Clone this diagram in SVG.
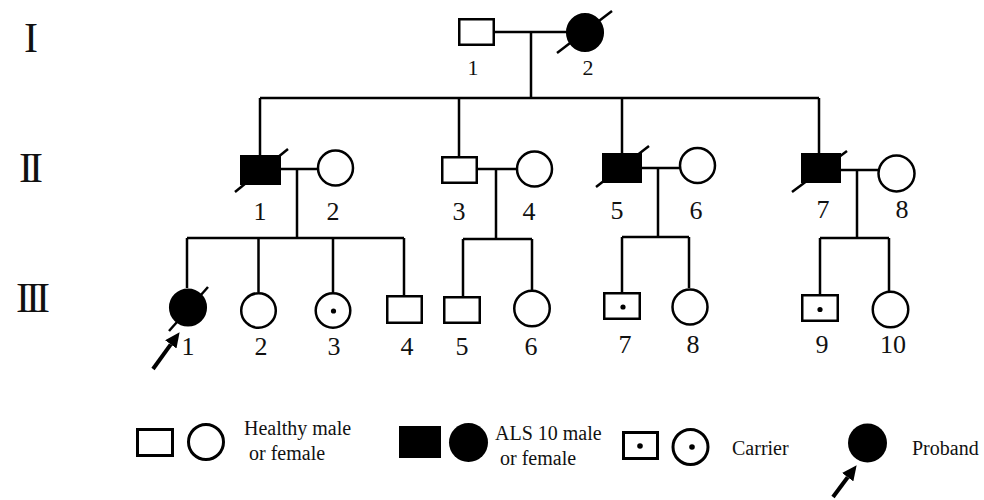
<svg xmlns="http://www.w3.org/2000/svg" width="984" height="500" viewBox="0 0 984 500">
  <defs>
    <style>
      .ln { stroke: #000; stroke-width: 2.5; fill: none; }
      .open { fill: #fff; stroke: #000; stroke-width: 2.5; }
      .aff { fill: #000; stroke: #000; stroke-width: 2.5; }
      .leg { fill: #fff; stroke: #000; stroke-width: 3; }
      .slash { stroke: #000; stroke-width: 2.5; }
      .dot { fill: #000; }
      .arrow { stroke: #000; stroke-width: 4; fill: none; }
      text { font-family: "Liberation Serif", "Times New Roman", serif; fill: #111; }
      .num { font-size: 26px; text-anchor: middle; }
      .num1 { font-size: 22px; text-anchor: middle; }
      .gen { font-size: 42px; text-anchor: middle; letter-spacing: -4px; }
      .lgt { font-size: 20px; }
    </style>
    <marker id="head" markerUnits="userSpaceOnUse" markerWidth="15" markerHeight="14" refX="0" refY="7" orient="auto">
      <path d="M0,0 L15,7 L0,14 z" fill="#000"/>
    </marker>
  </defs>

  <!-- generation numerals -->
  <g id="generations">
    <text class="gen" x="29" y="52">I</text>
    <text class="gen" x="29" y="182">II</text>
    <text class="gen" x="31" y="312">III</text>
  </g>

  <!-- connectors -->
  <g id="connectors">
    <!-- generation I -->
    <path class="ln" d="M495,32 H566 M531,32 V98 M260,98 H819 M260,98 V155 M459,98 V156 M622,98 V153 M819,98 V153"/>
    <!-- generation II couples -->
    <path class="ln" d="M281,169 H317 M297,169 V238 M187,238 H404 M187,238 V288 M258.5,238 V292 M333,238 V292 M404,238 V296"/>
    <path class="ln" d="M478,169 H516 M496,169 V239 M463,239 H532 M463,239 V297 M532,239 V290"/>
    <path class="ln" d="M642,168 H679 M658,168 V237 M622,237 H689 M622,237 V293 M689,237 V288"/>
    <path class="ln" d="M841,170 H878 M857,170 V238 M820,238 H889 M820,238 V295 M889,238 V291"/>
  </g>

  <!-- generation I -->
  <g id="I-1"><rect class="open" x="459.25" y="19.25" width="34.5" height="25.5"/><text class="num1" x="473" y="75">1</text></g>
  <g id="I-2"><ellipse class="aff" cx="585" cy="32.5" rx="17.8" ry="18.3"/><line class="slash" x1="557" y1="53" x2="612" y2="11"/><text class="num1" x="588" y="75">2</text></g>

  <!-- generation II -->
  <g id="II-1"><rect class="aff" x="241.25" y="156.25" width="38.5" height="27.5"/><line class="slash" x1="235" y1="192" x2="288" y2="149"/><text class="num" x="260" y="220">1</text></g>
  <g id="II-2"><circle class="open" cx="335.5" cy="168" r="17.5"/><text class="num" x="333" y="220">2</text></g>
  <g id="II-3"><rect class="open" x="442.25" y="157.25" width="34.5" height="25.5"/><text class="num" x="459" y="220">3</text></g>
  <g id="II-4"><circle class="open" cx="534.5" cy="169" r="17.5"/><text class="num" x="529" y="220">4</text></g>
  <g id="II-5"><rect class="aff" x="603.25" y="154.25" width="37.5" height="27.5"/><line class="slash" x1="596" y1="187" x2="649" y2="146"/><text class="num" x="617" y="219">5</text></g>
  <g id="II-6"><circle class="open" cx="697.5" cy="165.5" r="17.5"/><text class="num" x="696" y="219">6</text></g>
  <g id="II-7"><rect class="aff" x="802.25" y="154.25" width="37.5" height="27.5"/><line class="slash" x1="792" y1="192" x2="847" y2="151"/><text class="num" x="823" y="218">7</text></g>
  <g id="II-8"><circle class="open" cx="896.5" cy="173.5" r="18"/><text class="num" x="902" y="218">8</text></g>

  <!-- generation III -->
  <g id="III-1"><circle class="aff" cx="188" cy="307.5" r="17.8"/><line class="slash" x1="169" y1="331" x2="208" y2="287"/><text class="num" x="188" y="355">1</text></g>
  <g id="III-2"><circle class="open" cx="258.5" cy="310.5" r="17.3"/><text class="num" x="261" y="355">2</text></g>
  <g id="III-3"><circle class="open" cx="333" cy="310.5" r="17.3"/><circle class="dot" cx="333.5" cy="311" r="2.6"/><text class="num" x="334" y="355">3</text></g>
  <g id="III-4"><rect class="open" x="387.25" y="296.25" width="34.5" height="26.5"/><text class="num" x="407" y="355">4</text></g>
  <g id="III-5"><rect class="open" x="444.25" y="297.25" width="35.5" height="25.5"/><text class="num" x="462" y="355">5</text></g>
  <g id="III-6"><circle class="open" cx="532" cy="308.5" r="17.75"/><text class="num" x="531" y="355">6</text></g>
  <g id="III-7"><rect class="open" x="604.25" y="293.25" width="35.5" height="25.5"/><circle class="dot" cx="623" cy="307" r="2.6"/><text class="num" x="625" y="353">7</text></g>
  <g id="III-8"><circle class="open" cx="690" cy="307" r="17.5"/><text class="num" x="693" y="353">8</text></g>
  <g id="III-9"><rect class="open" x="802.25" y="295.25" width="35.5" height="25.5"/><circle class="dot" cx="820" cy="309.5" r="2.6"/><text class="num" x="822" y="353">9</text></g>
  <g id="III-10"><circle class="open" cx="890.5" cy="309.5" r="17.75"/><text class="num" x="893" y="353">10</text></g>

  <!-- proband pointer -->
  <g id="proband-arrow"><line class="arrow" x1="153" y1="369" x2="170.8" y2="344.4" marker-end="url(#head)"/></g>

  <!-- key -->
  <g id="key-healthy">
    <rect class="leg" x="137.5" y="429.5" width="35" height="26"/>
    <circle class="leg" cx="206" cy="442" r="17.5"/>
    <text class="lgt" x="244" y="435">Healthy male</text>
    <text class="lgt" x="249" y="460">or female</text>
  </g>
  <g id="key-affected">
    <rect x="399" y="426" width="42" height="32" fill="#000"/>
    <circle cx="468.5" cy="442.5" r="19.5" fill="#000"/>
    <text class="lgt" x="495" y="440">ALS 10 male</text>
    <text class="lgt" x="500" y="465">or female</text>
  </g>
  <g id="key-carrier">
    <rect class="leg" x="623.5" y="432.5" width="34" height="26"/>
    <circle class="dot" cx="640" cy="446" r="2.8"/>
    <circle class="leg" cx="690.5" cy="447" r="17.5"/>
    <circle class="dot" cx="692" cy="447" r="2.8"/>
    <text class="lgt" x="732" y="455">Carrier</text>
  </g>
  <g id="key-proband">
    <circle cx="867.5" cy="443" r="19.5" fill="#000"/>
    <line class="arrow" x1="833" y1="497" x2="847.7" y2="477.2" marker-end="url(#head)"/>
    <text class="lgt" x="912" y="455">Proband</text>
  </g>
</svg>
